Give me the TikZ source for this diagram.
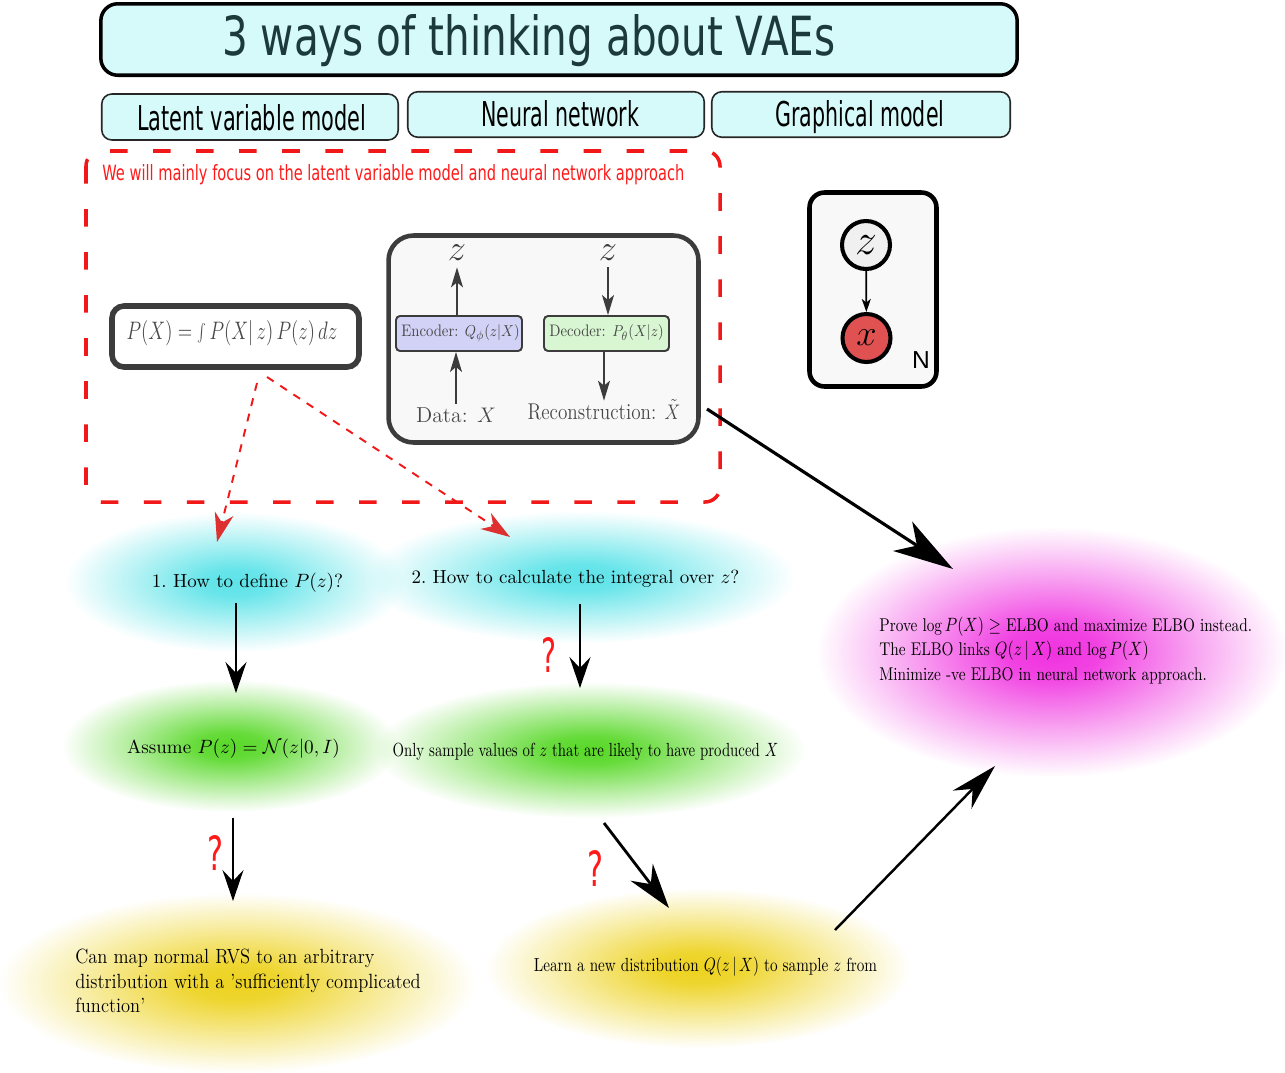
\documentclass[tikz,border=0pt]{standalone}
\usepackage{graphicx}
\usepackage{fontspec}
\usetikzlibrary{arrows.meta,fadings}

\newfontfamily\dvs{DejaVu Sans}
\newfontfamily\lib{Liberation Sans}

% one drawing unit
\newlength\pxu
\setlength\pxu{0.02cm}
\newcommand\fitpx[3]{\resizebox{#1\pxu}{#2\pxu}{#3}}

\definecolor{titlefill}{HTML}{D6F9F9}
\definecolor{titleink}{HTML}{1C3A3A}
\definecolor{boxgray}{HTML}{3C3C3C}
\definecolor{inkgray}{HTML}{484848}
\definecolor{encfill}{HTML}{D2D2F7}
\definecolor{decfill}{HTML}{D8F6D2}
\definecolor{panel}{HTML}{F8F8F8}
\definecolor{noteRed}{HTML}{FF1A1A}
\definecolor{dashRed}{HTML}{F01818}
\definecolor{tipRed}{HTML}{DD3030}
\definecolor{obsRed}{HTML}{E05252}
\definecolor{latentfill}{HTML}{F0F0F0}
\definecolor{blobCyan}{HTML}{5CE3E8}
\definecolor{blobGreen}{HTML}{58D828}
\definecolor{blobYellow}{HTML}{EDD21E}
\definecolor{blobPink}{HTML}{F032E0}

% soft elliptic glow: opaque centre, transparent rim
\pgfdeclareradialshading{blobshade}{\pgfpointorigin}{%
  color(0bp)=(white); color(5bp)=(white!92!black);
  color(15bp)=(white!45!black); color(25bp)=(black); color(50bp)=(black)}
\pgfdeclarefading{blob}{\pgfuseshading{blobshade}}

\begin{document}
\begin{tikzpicture}[x=0.02cm, y=-0.02cm,
  titlebox/.style={draw=black, line width=2pt, fill=titlefill, rounded corners=0.34cm},
  headbox/.style={draw=black!85, line width=0.9pt, fill=titlefill, rounded corners=0.2cm,
    minimum width=5.93cm, minimum height=0.92cm},
  labeltext/.style={inner sep=0pt, anchor=base west},
  eqbox/.style={draw=boxgray, line width=3.2pt, fill=white, rounded corners=0.24cm},
  netpanel/.style={draw=boxgray, line width=2.6pt, fill=panel, rounded corners=0.5cm},
  layerbox/.style={draw=boxgray, line width=1.1pt, rounded corners=0.08cm,
    minimum width=2.52cm, minimum height=0.7cm, inner sep=0pt},
  nnarrow/.style={draw=boxgray, line width=0.9pt, -{Stealth[length=0.4cm, width=0.24cm, inset=0.1cm]}},
  plate/.style={draw=black, line width=2.6pt, fill=panel, rounded corners=0.3cm},
  varnode/.style={circle, draw=black, line width=2.3pt, minimum size=0.96cm, inner sep=0pt},
  blobtext/.style={inner sep=0pt, anchor=base, font=\fontsize{10.8}{13}\selectfont},
  glow/.style={path fading=blob, fit fading=true},
  flow/.style={line width=1.2pt, -{Stealth[length=0.62cm, width=0.42cm, inset=0.22cm]}},
  redflow/.style={draw=dashRed, line width=1.1pt, dash pattern=on 4.5pt off 4.5pt,
    -{Stealth[length=0.58cm, width=0.38cm, inset=0.18cm, color=tipRed]}},
  query/.style={inner sep=0pt, anchor=base west, text=noteRed},
]
\useasboundingbox (0,0) rectangle (1285,1072);

% ---- soft background blobs
\fill[blobCyan, glow]   (235,582)  ellipse [x radius=3.4cm,  y radius=1.4cm];
\fill[blobCyan, glow]   (581,577)  ellipse [x radius=4.28cm, y radius=1.32cm];
\fill[blobGreen, glow]  (230,746)  ellipse [x radius=3.36cm, y radius=1.32cm];
\fill[blobGreen, glow]  (590,750)  ellipse [x radius=4.3cm,  y radius=1.36cm];
\fill[blobYellow, glow] (237,983)  ellipse [x radius=4.76cm, y radius=1.8cm];
\fill[blobYellow, glow] (698,968)  ellipse [x radius=4.24cm, y radius=1.6cm];
\fill[blobPink, glow]   (1052,652) ellipse [x radius=4.7cm,  y radius=2.5cm];

% ---- heading
\node[titlebox, minimum width=18.33cm, minimum height=1.43cm] (title) at (559,39.5) {};
\node[labeltext, text=titleink] (titletext) at (222,55) {\fitpx{613}{41}{\dvs 3 ways of thinking about VAEs}};

\node[headbox] (lvm) at (250,117) {};
\node[headbox, minimum height=0.91cm] (nn) at (556,114.5) {};
\node[headbox, minimum width=5.97cm, minimum height=0.91cm] (gm) at (861,114.5) {};
\node[labeltext] (lvmtext) at (137,130) {\fitpx{229}{26}{\dvs Latent variable model}};
\node[labeltext] (nntext) at (481,126) {\fitpx{158}{26}{\dvs Neural network}};
\node[labeltext] (gmtext) at (775,126) {\fitpx{169}{26}{\dvs Graphical model}};

% ---- focus region
\draw[dashRed, line width=2pt, dash pattern=on 10pt off 14.5pt, rounded corners=0.3cm]
  (86,151) rectangle (720,502);
\node[query] (note) at (102,180) {\fitpx{582}{16}{\dvs We will mainly focus on the latent variable model and neural network approach}};

% ---- marginal likelihood
\node[eqbox, minimum width=4.94cm, minimum height=1.22cm] (eq) at (235.5,336.5) {};
\node[text=inkgray, inner sep=0pt] (eqtext) at (232,333)
  {\fontsize{14.5}{16}\selectfont\scalebox{0.75}[1]{$P(X) = \int P(X|\,z)\,P(z)\,dz$}};

% ---- encoder / decoder
\node[netpanel, minimum width=6.2cm, minimum height=4.14cm] (panel) at (543.5,339) {};
\node[layerbox, fill=encfill] (enc) at (459,333.5) {};
\node[layerbox, fill=decfill, minimum width=2.5cm] (dec) at (606.5,333.5) {};
\node[text=inkgray, inner sep=0pt] (enctext) at (460.5,333)
  {\fontsize{9.5}{11}\selectfont\scalebox{0.88}[1]{Encoder: $Q_\phi(z|X)$}};
\node[text=inkgray, inner sep=0pt] (dectext) at (606.5,333)
  {\fontsize{9.5}{11}\selectfont\scalebox{0.88}[1]{Decoder: $P_\theta(X|z)$}};
\node[anchor=base, inner sep=0pt, text height=0.16cm, text depth=0.14cm, text=boxgray] (zenc) at (457,260)
  {\fontsize{20}{22}\selectfont$z$};
\node[anchor=base, inner sep=0pt, text height=0.16cm, text depth=0.14cm, text=boxgray] (zdec) at (608,260)
  {\fontsize{20}{22}\selectfont$z$};
\node[anchor=base, inner sep=0pt, text height=0.36cm, text=inkgray] (data) at (456,422)
  {\fontsize{12.3}{14}\selectfont Data: $X$};
\node[anchor=base, inner sep=0pt, text height=0.36cm, text=inkgray] (recon) at (604,419)
  {\fontsize{13}{15}\selectfont\scalebox{0.84}[1]{Reconstruction: $\tilde{X}$}};

\draw[nnarrow] (enc.north -| zenc) -- (zenc.south);
\draw[nnarrow] (zdec.south) -- (dec.north -| zdec);
\draw[nnarrow] (data.north) -- (enc.south -| data);
\draw[nnarrow] (dec.south -| recon) -- (recon.north);

% ---- plate notation
\node[plate, minimum width=2.54cm, minimum height=3.88cm] (platebox) at (873,289.5) {};
\node[varnode, fill=latentfill] (zvar) at (866,245) {\fontsize{26}{28}\selectfont$z$};
\node[varnode, fill=obsRed] (xvar) at (866.5,338) {\fontsize{22}{24}\selectfont$x$};
\draw[line width=1pt, -{Stealth[length=0.26cm, width=0.18cm, inset=0.07cm]}] (zvar) -- (xvar);
\node[anchor=base, inner sep=0pt] (platen) at (921,368) {\fontsize{14}{16}\selectfont\lib N};

% ---- questions and answers
\node[blobtext] (q1) at (247.5,587) {1.~How to define $P(z)$?};
\node[blobtext] (q2) at (575.5,583) {2.~How to calculate the integral over $z$?};
\node[blobtext] (a1) at (233.5,753) {Assume $P(z)=\mathcal{N}(z|0,I)$};
\node[blobtext] (a2) at (585.5,756)
  {\scalebox{0.78}[1]{Only sample values of $z$ that are likely to have produced $X$}};
\node[inner sep=0pt, anchor=west, font=\fontsize{11.7}{14.2}\selectfont] (y1) at (75,983)
  {\scalebox{0.9}[1]{\begin{tabular}{@{}l@{}}Can map normal RVS to an arbitrary\\
   distribution with a 'sufficiently complicated\\ function'\end{tabular}}};
\node[blobtext] (y2) at (705.5,971)
  {\scalebox{0.8}[1]{Learn a new distribution $Q(z\,|\,X)$ to sample $z$ from}};
\node[inner sep=0pt, anchor=west, font=\fontsize{10.5}{13.9}\selectfont] (elbo) at (879,651)
  {\scalebox{0.83}[1]{\begin{tabular}{@{}l@{}}Prove $\log P(X)\geq$ ELBO and maximize ELBO instead.\\
   The ELBO links $Q(z\,|\,X)$ and $\log P(X)$\\
   Minimize -ve ELBO in neural network approach.\end{tabular}}};

% ---- question marks
\node[query] (qm1) at (541,672) {\fitpx{15}{35}{\dvs ?}};
\node[query] (qm2) at (207,870) {\fitpx{16}{35}{\dvs ?}};
\node[query] (qm3) at (587,886) {\fitpx{16}{36}{\dvs ?}};

% ---- connector end points
\coordinate (eqout1) at (257,383);
\coordinate (eqout2) at (267,377);
\coordinate (q1in) at (217,542);
\coordinate (q2in) at (510,537);
\coordinate (q1out) at (236,603);
\coordinate (a1in) at (236,693);
\coordinate (q2out) at (580,604);
\coordinate (a2in) at (580,688);
\coordinate (a1out) at (233,818);
\coordinate (y1in) at (233,901);
\coordinate (a2out) at (604,823);
\coordinate (y2in) at (669,908);
\coordinate (panelout) at (707,409);
\coordinate (elboin) at (953,569);
\coordinate (y2out) at (835,930);
\coordinate (elboin2) at (995,766);

% ---- connectors
\draw[redflow] (eqout1) -- (q1in);
\draw[redflow] (eqout2) -- (q2in);
\draw[flow] (q1out) -- (a1in);
\draw[flow] (q2out) -- (a2in);
\draw[flow] (a1out) -- (y1in);
\draw[line width=1.6pt, -{Stealth[length=0.9cm, width=0.56cm, inset=0.3cm]}] (a2out) -- (y2in);
\draw[line width=1.8pt, -{Stealth[length=1.2cm, width=0.7cm, inset=0.34cm]}] (panelout) -- (elboin);
\draw[line width=1.4pt, -{Stealth[length=0.94cm, width=0.52cm, inset=0.3cm]}] (y2out) -- (elboin2);
\end{tikzpicture}
\end{document}
